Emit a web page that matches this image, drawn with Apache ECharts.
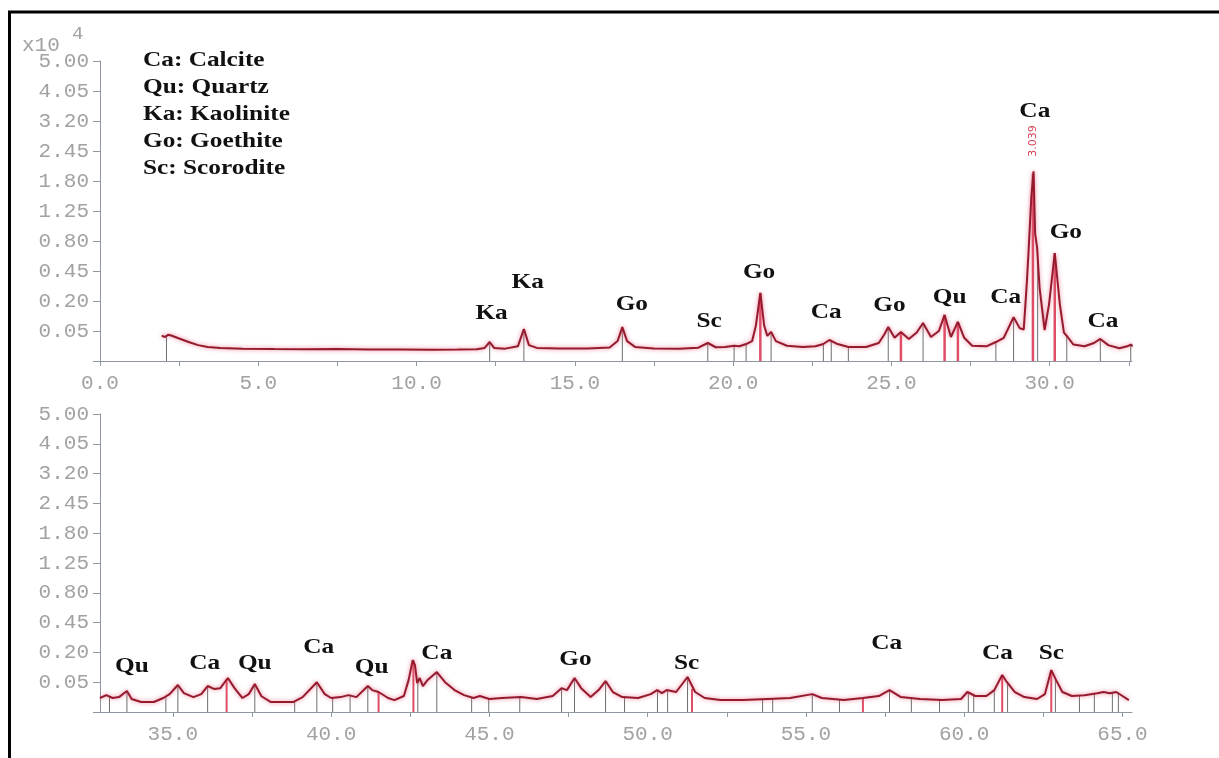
<!DOCTYPE html>
<html>
<head>
<meta charset="utf-8">
<title>XRD pattern</title>
<script src="https://cdn.jsdelivr.net/npm/echarts@6/dist/echarts.min.js"></script>
<style>
  html, body { margin: 0; padding: 0; background: #fff; }
  #chart { width: 1219px; height: 758px; }
</style>
</head>
<body>
<div id="chart"></div>
<script>
// Diffraction pattern, intensity in units of 10^4 counts, plotted on a square-root scale.

// 2-theta range 0 - 32.6 (upper panel)
const topTheta = [1.95, 2.05, 2.15, 2.25, 2.5, 2.8, 3.1, 3.4, 3.8, 4.5, 5.5, 6.5, 7.5, 8.5, 9.5, 10.5, 11.3, 11.9, 12.15, 12.31, 12.45, 12.8, 13.2, 13.39, 13.55, 13.8, 14.5, 15.4, 16.1, 16.35, 16.5, 16.65, 16.9, 17.5, 18.3, 18.9, 19.2, 19.45, 19.75, 20.03, 20.2, 20.41, 20.6, 20.72, 20.86, 20.98, 21.08, 21.2, 21.35, 21.7, 22.2, 22.6, 22.85, 23.04, 23.3, 23.64, 24.2, 24.6, 24.78, 24.9, 25.1, 25.3, 25.55, 25.8, 26.0, 26.25, 26.5, 26.68, 26.88, 27.1, 27.3, 27.55, 28.0, 28.3, 28.55, 28.86, 29.05, 29.18, 29.28, 29.33, 29.42, 29.49, 29.54, 29.6, 29.68, 29.84, 29.98, 30.16, 30.32, 30.45, 30.55, 30.75, 31.1, 31.4, 31.6, 31.85, 32.2, 32.45, 32.56, 32.62];
const topIntensity = [0.036, 0.032, 0.038, 0.036, 0.028, 0.02, 0.014, 0.011, 0.0095, 0.0085, 0.008, 0.0078, 0.008, 0.0074, 0.0072, 0.007, 0.0072, 0.0078, 0.0095, 0.02, 0.0095, 0.0085, 0.012, 0.057, 0.014, 0.0095, 0.0088, 0.0088, 0.01, 0.022, 0.064, 0.022, 0.011, 0.0088, 0.0085, 0.0098, 0.018, 0.0105, 0.011, 0.013, 0.012, 0.016, 0.022, 0.07, 0.257, 0.07, 0.035, 0.047, 0.022, 0.013, 0.011, 0.012, 0.016, 0.0245, 0.016, 0.011, 0.011, 0.018, 0.04, 0.064, 0.03, 0.047, 0.027, 0.045, 0.08, 0.032, 0.05, 0.118, 0.032, 0.085, 0.03, 0.013, 0.012, 0.02, 0.03, 0.107, 0.06, 0.055, 0.35, 0.65, 1.5, 2.0, 0.9, 0.72, 0.3, 0.053, 0.18, 0.648, 0.18, 0.045, 0.034, 0.015, 0.012, 0.018, 0.027, 0.014, 0.009, 0.012, 0.015, 0.012];

// 2-theta range 32.7 - 65.3 (lower panel)
const bottomTheta = [32.7, 32.9, 33.1, 33.3, 33.55, 33.7, 34.0, 34.4, 34.7, 34.9, 35.16, 35.35, 35.65, 35.9, 36.1, 36.3, 36.5, 36.74, 36.95, 37.2, 37.4, 37.59, 37.8, 38.1, 38.8, 39.1, 39.55, 39.8, 40.0, 40.3, 40.55, 40.8, 41.16, 41.3, 41.5, 41.8, 42.0, 42.3, 42.45, 42.58, 42.65, 42.72, 42.8, 42.9, 43.05, 43.34, 43.6, 43.9, 44.2, 44.5, 44.7, 45.0, 45.4, 46.0, 46.5, 47.0, 47.28, 47.45, 47.69, 47.9, 48.2, 48.45, 48.67, 48.9, 49.2, 49.7, 50.1, 50.3, 50.45, 50.6, 50.9, 51.26, 51.5, 51.8, 52.3, 53.0, 53.8, 54.5, 55.2, 55.5, 56.2, 56.8, 57.3, 57.64, 58.0, 58.6, 59.3, 59.9, 60.1, 60.35, 60.7, 60.95, 61.2, 61.35, 61.6, 61.9, 62.3, 62.55, 62.75, 62.9, 63.1, 63.4, 63.8, 64.2, 64.4, 64.6, 64.8, 65.0, 65.2];
const bottomIntensity = [0.011, 0.016, 0.011, 0.0125, 0.025, 0.0095, 0.0056, 0.0056, 0.011, 0.018, 0.041, 0.02, 0.0125, 0.018, 0.038, 0.03, 0.032, 0.065, 0.032, 0.011, 0.018, 0.044, 0.014, 0.0056, 0.0056, 0.0125, 0.05, 0.018, 0.011, 0.0125, 0.016, 0.0125, 0.038, 0.027, 0.0225, 0.011, 0.008, 0.0144, 0.058, 0.152, 0.124, 0.047, 0.065, 0.038, 0.058, 0.09, 0.05, 0.027, 0.016, 0.011, 0.0144, 0.0095, 0.011, 0.0125, 0.0095, 0.0144, 0.032, 0.027, 0.065, 0.032, 0.0125, 0.027, 0.054, 0.0225, 0.0125, 0.011, 0.018, 0.027, 0.02, 0.027, 0.0225, 0.069, 0.0225, 0.011, 0.008, 0.008, 0.0095, 0.011, 0.018, 0.011, 0.008, 0.011, 0.0144, 0.027, 0.0125, 0.0095, 0.008, 0.0095, 0.0225, 0.0144, 0.0144, 0.027, 0.077, 0.05, 0.0225, 0.0125, 0.0095, 0.018, 0.099, 0.058, 0.0225, 0.0144, 0.016, 0.02, 0.0225, 0.02, 0.0225, 0.0144, 0.008];

// Reference stick positions [2-theta, intensity]
const topSticks = [[2.1, 0.034], [12.31, 0.02], [13.39, 0.057], [16.5, 0.064], [19.2, 0.018], [20.03, 0.013], [20.41, 0.016], [21.2, 0.047], [22.85, 0.016], [23.1, 0.022], [23.64, 0.011], [24.9, 0.064], [26.0, 0.08], [28.3, 0.02], [28.86, 0.107], [29.62, 0.7], [30.54, 0.035], [31.6, 0.027], [32.56, 0.015]];
const topMainSticks = [[20.86, 0.257], [25.3, 0.047], [26.68, 0.118], [27.1, 0.085], [29.47, 1.95], [30.16, 0.648]];
const bottomSticks = [[33.0, 0.013], [33.55, 0.025], [34.78, 0.012], [35.16, 0.041], [36.1, 0.038], [37.59, 0.044], [38.85, 0.006], [39.55, 0.05], [40.05, 0.011], [40.6, 0.015], [41.16, 0.038], [42.74, 0.047], [43.34, 0.09], [44.44, 0.011], [44.98, 0.0095], [45.96, 0.0125], [47.28, 0.032], [47.69, 0.065], [48.67, 0.054], [49.27, 0.012], [50.31, 0.027], [50.63, 0.026], [51.26, 0.069], [53.63, 0.0095], [53.95, 0.0095], [55.2, 0.018], [56.06, 0.008], [57.64, 0.027], [58.33, 0.011], [59.22, 0.008], [60.13, 0.022], [60.3, 0.015], [60.95, 0.027], [61.37, 0.05], [62.88, 0.058], [63.64, 0.015], [64.11, 0.02], [64.68, 0.021], [64.87, 0.022]];
const bottomMainSticks = [[36.7, 0.06], [41.5, 0.022], [42.6, 0.15], [51.4, 0.03], [56.8, 0.011], [61.2, 0.077], [62.75, 0.099]];

// Phase identifications [2-theta, label height, phase]
const topPhases = [[12.37, 0.128, 'Ka'], [13.51, 0.347, 'Ka'], [16.8, 0.18, 'Go'], [19.24, 0.089, 'Sc'], [20.82, 0.44, 'Go'], [22.94, 0.133, 'Ca'], [24.94, 0.174, 'Go'], [26.84, 0.228, 'Qu'], [28.61, 0.228, 'Ca'], [29.53, 3.47, 'Ca'], [30.51, 0.924, 'Go'], [31.68, 0.089, 'Ca']];
const bottomPhases = [[33.71, 0.119, 'Qu'], [36.01, 0.135, 'Ca'], [37.59, 0.135, 'Qu'], [39.61, 0.238, 'Ca'], [41.28, 0.114, 'Qu'], [43.34, 0.196, 'Ca'], [47.72, 0.158, 'Go'], [51.23, 0.135, 'Sc'], [57.55, 0.268, 'Ca'], [61.05, 0.196, 'Ca'], [62.75, 0.196, 'Sc']];

// d-spacing of the strongest reflection [2-theta, label height, text]
const dSpacing = [[29.49, 2.69, '3.039']];

const legendLines = ['Ca: Calcite', 'Qu: Quartz', 'Ka: Kaolinite', 'Go: Goethite', 'Sc: Scorodite'];

// Axis ticks and labels
const yTickLabels = ['', '0.05', '0.20', '0.45', '0.80', '1.25', '1.80', '2.45', '3.20', '4.05', '5.00'];
const topXTicks = [0, 2.5, 5, 7.5, 10, 12.5, 15, 17.5, 20, 22.5, 25, 27.5, 30, 32.5];
const topXLabels = [0, 5, 10, 15, 20, 25, 30];
const bottomXTicks = [35, 37.5, 40, 42.5, 45, 47.5, 50, 52.5, 55, 57.5, 60, 62.5, 65];
const bottomXLabels = [35, 40, 45, 50, 55, 60, 65];

// square-root scale: one axis step per tick, tick n sits at 0.05 * n^2
const STEP = 0.05;
const toAxis = v => Math.sqrt(v / STEP);

const AXIS_GRAY = '#8f97a0';
const TEXT_GRAY = '#a2a2a2';
const LABEL_FONT = '"Liberation Mono", "DejaVu Sans Mono", monospace';
const PHASE_FONT = 'bold 22px "Liberation Serif", "Times New Roman", serif';

function curve(theta, inten) {
  return theta.map((t, i) => [t, toAxis(inten[i])]);
}

function stickSeries(sticks, idx, color, width) {
  return {
    type: 'custom',
    xAxisIndex: idx, yAxisIndex: idx,
    silent: true,
    z: 2,
    data: sticks.map(s => [s[0], toAxis(s[1])]),
    renderItem: (params, api) => {
      const b = api.coord([api.value(0), 0]);
      const t = api.coord([api.value(0), api.value(1)]);
      return {
        type: 'line',
        shape: { x1: b[0], y1: b[1], x2: t[0], y2: t[1] },
        style: { stroke: color, lineWidth: width }
      };
    }
  };
}

function textSeries(items, idx, font, color, rotation, scaleX) {
  return {
    type: 'custom',
    xAxisIndex: idx, yAxisIndex: idx,
    silent: true,
    z: 5,
    clip: false,
    data: items.map(d => [d[0], toAxis(d[1])]),
    renderItem: (params, api) => {
      const p = api.coord([api.value(0), api.value(1)]);
      return {
        type: 'text',
        x: p[0], y: p[1],
        rotation: rotation,
        scaleX: scaleX,
        style: {
          text: items[params.dataIndex][2],
          font: font,
          fill: color,
          align: 'center',
          verticalAlign: 'middle'
        }
      };
    }
  };
}

function xAxis(idx, min, max, ticks, labels) {
  return {
    type: 'value', gridIndex: idx, min: min, max: max,
    axisLine: { show: true, lineStyle: { color: AXIS_GRAY, width: 1 } },
    axisTick: { show: true, length: 5, customValues: ticks, lineStyle: { color: AXIS_GRAY } },
    axisLabel: {
      customValues: labels, margin: 12,
      formatter: v => v.toFixed(1),
      color: TEXT_GRAY, fontFamily: LABEL_FONT, fontSize: 21
    },
    splitLine: { show: false }
  };
}

function yAxis(idx) {
  return {
    type: 'value', gridIndex: idx, min: 0, max: 10, interval: 1,
    axisLine: { show: true, lineStyle: { color: AXIS_GRAY, width: 1 } },
    axisTick: { show: true, length: 7, lineStyle: { color: AXIS_GRAY } },
    axisLabel: {
      margin: 11,
      formatter: v => yTickLabels[Math.round(v)] || '',
      color: TEXT_GRAY, fontFamily: LABEL_FONT, fontSize: 21
    },
    splitLine: { show: false }
  };
}

const lineStyle = {
  color: '#961a2e', width: 2,
  shadowColor: 'rgba(228, 90, 120, 0.8)', shadowBlur: 4
};

const chart = echarts.init(document.getElementById('chart'), null, { renderer: 'canvas' });

chart.setOption({
  backgroundColor: '#ffffff',
  animation: false,
  grid: [
    { left: 100, top: 61, width: 1032, height: 300 },
    { left: 100, top: 414, width: 1032, height: 298 }
  ],
  xAxis: [
    xAxis(0, 0, 32.6, topXTicks, topXLabels),
    xAxis(1, 32.7, 65.3, bottomXTicks, bottomXLabels)
  ],
  yAxis: [yAxis(0), yAxis(1)],
  series: [
    stickSeries(topSticks, 0, '#6e6e6e', 1),
    stickSeries(topMainSticks, 0, '#df4d66', 2.5),
    stickSeries(bottomSticks, 1, '#6e6e6e', 1),
    stickSeries(bottomMainSticks, 1, '#df4d66', 2),
    {
      type: 'line', xAxisIndex: 0, yAxisIndex: 0, z: 3,
      showSymbol: false, silent: true,
      data: curve(topTheta, topIntensity),
      lineStyle: lineStyle
    },
    {
      type: 'line', xAxisIndex: 1, yAxisIndex: 1, z: 3,
      showSymbol: false, silent: true,
      data: curve(bottomTheta, bottomIntensity),
      lineStyle: lineStyle
    },
    textSeries(topPhases, 0, PHASE_FONT, '#111111', 0, 1.15),
    textSeries(bottomPhases, 1, PHASE_FONT, '#111111', 0, 1.15),
    textSeries(dSpacing, 0, '11px "DejaVu Sans", sans-serif', '#d24258', Math.PI / 2, 1)
  ],
  graphic: [
    // frame
    { type: 'line', shape: { x1: 8, y1: 12, x2: 1219, y2: 12 }, style: { stroke: '#000', lineWidth: 3 } },
    { type: 'line', shape: { x1: 9.5, y1: 12, x2: 9.5, y2: 758 }, style: { stroke: '#000', lineWidth: 3 } },
    // intensity multiplier
    {
      type: 'text', x: 22, y: 45,
      style: { text: 'x10', font: '21px ' + LABEL_FONT, fill: TEXT_GRAY, align: 'left', verticalAlign: 'middle' }
    },
    {
      type: 'text', x: 72, y: 34,
      style: { text: '4', font: '19px ' + LABEL_FONT, fill: TEXT_GRAY, align: 'left', verticalAlign: 'middle' }
    },
    // phase key
    {
      type: 'group', x: 143, y: 60, scaleX: 1.15,
      children: legendLines.map((t, i) => ({
        type: 'text', x: 0, y: i * 27,
        style: { text: t, font: PHASE_FONT, fill: '#111111', align: 'left', verticalAlign: 'middle' }
      }))
    }
  ]
});
</script>
</body>
</html>
